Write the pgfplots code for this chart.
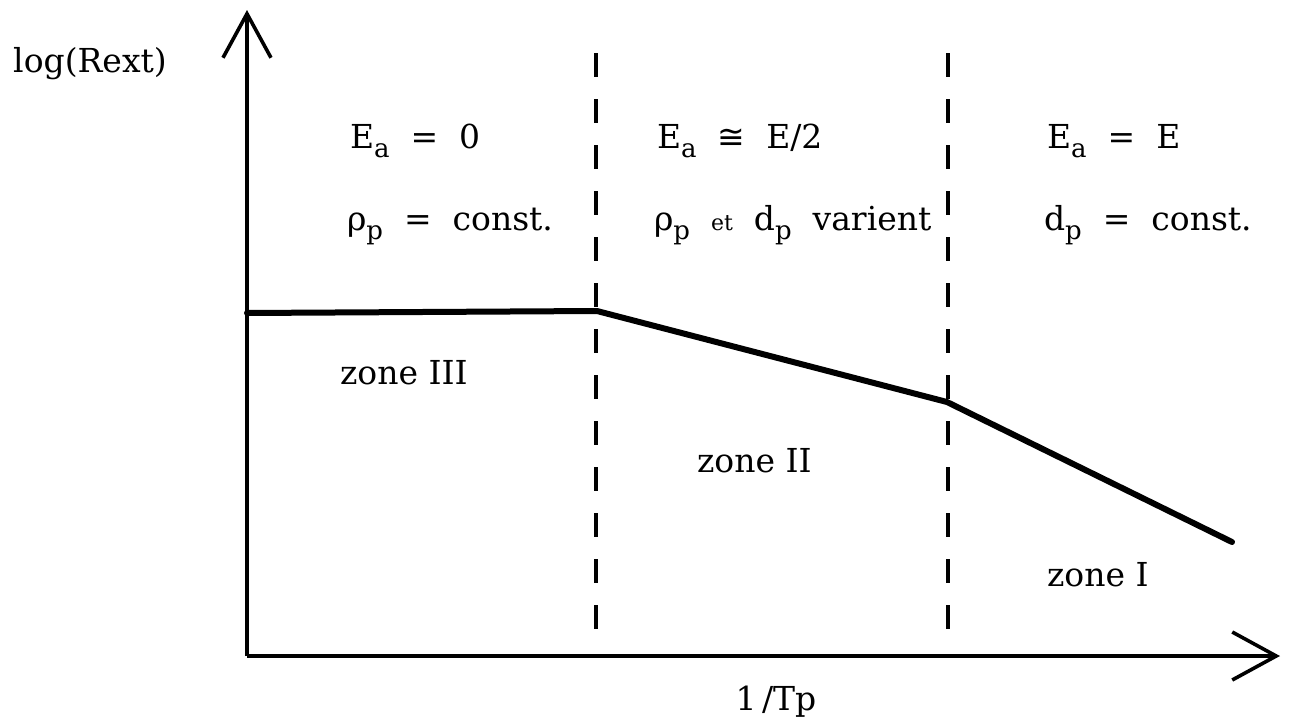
\documentclass[border=0pt]{standalone}
\usepackage{fontspec}
\setmainfont{DejaVu Serif}
\newfontfamily\symfont{DejaVu Sans}
\usepackage{pgfplots}
\pgfplotsset{compat=1.18}
\usetikzlibrary{arrows.meta}
\newcommand{\tf}{\fontsize{16.5}{18}\selectfont}
\newcommand{\sub}[1]{\lower0.3em\hbox{\fontsize{13}{14}\selectfont #1}}
\begin{document}
\begin{tikzpicture}
\begin{axis}[
  x=0.5pt, y=0.5pt,
  xmin=0, xmax=1033, ymin=0, ymax=646,
  axis lines=left,
  ticks=none,
  clip=false,
  axis line style={line width=1.7pt, -{Straight Barb[length=22pt,width=24pt,line width=1.8pt]}},
]
% regime boundaries
\addplot[black, line width=1.7pt, dash pattern=on 12pt off 11pt] coordinates {(349,603) (349,23)};
\addplot[black, line width=1.7pt, dash pattern=on 12pt off 11pt] coordinates {(701,603) (701,23)};
% log(Rext) versus 1/Tp
\addplot[black, line width=3pt, line join=round, line cap=round] coordinates {
  (0,343) (350,345) (700,254) (985,114)
};
% axis names
\node[anchor=base, font=\tf] at (axis cs:-157,584) {log(Rext)};
\node[anchor=base, font=\tf] at (axis cs:529,-54) {1\,/Tp};
% regime descriptions
\node[anchor=base west, font=\tf] at (axis cs:96,508) {E\sub{a}\ \ =\ \ 0};
\node[anchor=base west, font=\tf] at (axis cs:93,426) {ρ\sub{p}\ \ =\ \ const.};
\node[anchor=base west, font=\tf] at (axis cs:403,508) {E\sub{a}\ \ {\symfont ≅}\ \ E/2};
\node[anchor=base west, font=\tf] at (axis cs:400,426) {ρ\sub{p}\ \ {\fontsize{11}{13}\selectfont et}\ \ d\sub{p}\ \ varient};
\node[anchor=base west, font=\tf] at (axis cs:793,508) {E\sub{a}\ \ =\ \ E};
\node[anchor=base west, font=\tf] at (axis cs:790,426) {d\sub{p}\ \ =\ \ const.};
% zone labels
\node[anchor=base west, font=\tf] at (axis cs:86,272) {zone III};
\node[anchor=base west, font=\tf] at (axis cs:443,184) {zone II};
\node[anchor=base west, font=\tf] at (axis cs:793,70) {zone I};
\coordinate (bl) at (axis cs:-247,-69);
\coordinate (tr) at (axis cs:1044,656);
\end{axis}
\pgfresetboundingbox
\path (bl) rectangle (tr);
\end{tikzpicture}
\end{document}
